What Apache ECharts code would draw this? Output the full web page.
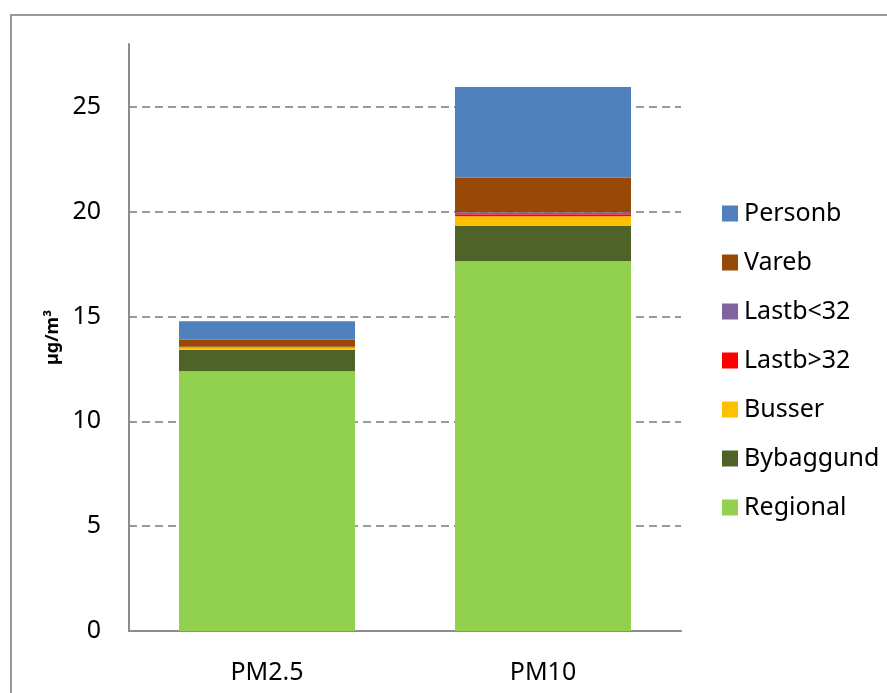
<!DOCTYPE html>
<html>
<head>
<meta charset="utf-8">
<script src="https://cdn.jsdelivr.net/npm/echarts@6/dist/echarts.min.js"></script>
<style>
  html, body { margin: 0; padding: 0; background: #fff; }
  #chart { width: 887px; height: 693px; }
</style>
</head>
<body>
<div id="chart"></div>
<script>
// categories and stacked values (µg/m³), bottom of stack first
var categories = ["PM2.5", "PM10"];
var regional = [12.39, 17.65];
var bybaggund = [1.03, 1.67];
var busser = [0.10, 0.46];
var lastbOver32 = [0.02, 0.10];
var lastbUnder32 = [0.02, 0.10];
var vareb = [0.33, 1.65];
var personb = [0.89, 4.32];
var yTicks = [0, 5, 10, 15, 20, 25];

var font = "Noto Sans";

function stackSeries(name, data, color) {
  return {
    name: name,
    type: "bar",
    stack: "total",
    barWidth: 176,
    data: data,
    itemStyle: { color: color },
    emphasis: { disabled: true }
  };
}

var chart = echarts.init(document.getElementById("chart"));
chart.setOption({
  animation: false,
  backgroundColor: "#fff",
  textStyle: { fontFamily: font },
  graphic: [{
    type: "rect",
    shape: { x: 11, y: 15, width: 900, height: 720 },
    style: { fill: "none", stroke: "#9a9a9a", lineWidth: 2 },
    silent: true
  }],
  grid: { left: 129, right: 206, top: 44, bottom: 62 },
  legend: {
    orient: "vertical",
    left: 717,
    top: 196,
    itemWidth: 16,
    itemHeight: 16,
    itemGap: 24,
    icon: "rect",
    textStyle: { fontFamily: font, fontSize: 25, color: "#000", padding: [0, 0, 0, 1] },
    data: ["Personb", "Vareb", "Lastb<32", "Lastb>32", "Busser", "Bybaggund", "Regional"]
  },
  xAxis: {
    type: "category",
    data: categories,
    axisLine: { lineStyle: { color: "#8c8c8c", width: 2 } },
    axisTick: { show: false },
    axisLabel: { fontSize: 25, color: "#000", margin: 29 }
  },
  yAxis: {
    type: "value",
    min: yTicks[0],
    max: 28,
    interval: yTicks[1] - yTicks[0],
    name: "µg/m³",
    nameLocation: "middle",
    nameRotate: 90,
    nameGap: 66,
    nameTextStyle: { fontFamily: font, fontSize: 18, fontWeight: "bold", color: "#000" },
    axisLine: { show: true, lineStyle: { color: "#8c8c8c", width: 2 } },
    axisTick: { show: false },
    axisLabel: {
      fontSize: 25, color: "#000", margin: 28,
      showMaxLabel: false,
      formatter: function (v) { return yTicks.indexOf(v) >= 0 ? String(v) : ""; }
    },
    splitLine: { showMaxLine: false, lineStyle: { color: "#9a9a9a", width: 2, type: [8, 5] } }
  },
  series: [
    stackSeries("Regional", regional, "#92D050"),
    stackSeries("Bybaggund", bybaggund, "#4F6228"),
    stackSeries("Busser", busser, "#FFC000"),
    stackSeries("Lastb>32", lastbOver32, "#FF0000"),
    stackSeries("Lastb<32", lastbUnder32, "#8064A2"),
    stackSeries("Vareb", vareb, "#984807"),
    stackSeries("Personb", personb, "#4F81BD")
  ]
});
</script>
</body>
</html>
